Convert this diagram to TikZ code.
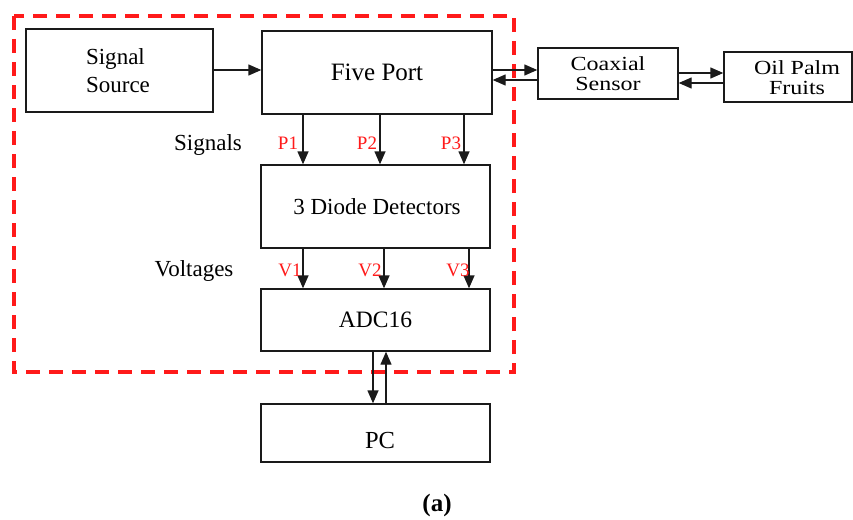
\documentclass[tikz,border=0pt]{standalone}
\usepackage{fontspec}
\setmainfont{Liberation Serif}
\usetikzlibrary{arrows.meta}
\definecolor{linegray}{HTML}{1A1A1A}
\definecolor{dashred}{HTML}{FF1A1A}
\tikzset{
  blk/.style={draw=linegray, line width=1.4pt, fill=white, rectangle, inner sep=0pt, align=center, font=\fontsize{23}{28}\selectfont},
  arr/.style={draw=linegray, line width=1.4pt, -{Triangle[length=13pt,width=11pt]}},
  lbl/.style={font=\fontsize{23}{25}\selectfont, inner sep=0pt},
  widelbl/.style={inner sep=0pt, align=center, font=\fontsize{20}{20}\selectfont\addfontfeature{FakeStretch=1.2}},
  plbl/.style={font=\fontsize{19}{21}\selectfont, text=dashred, inner sep=0pt},
  region/.style={draw=dashred, line width=3.2pt, dash pattern=on 14pt off 9pt},
}
\begin{document}
\begin{tikzpicture}[x=1pt,y=-1pt]
\useasboundingbox (0,0) rectangle (853,519);
\fill[white] (0,0) rectangle (853,519);
\draw[region] (14,16) rectangle (514,372);

\node[blk, minimum width=187pt, minimum height=83pt] (src) at (119.5,70.5) {};
\node[lbl, align=left, font=\fontsize{23}{28}\selectfont] (srctxt) at (118,71) {Signal\\Source};
\node[blk, minimum width=230pt, minimum height=83pt, font=\fontsize{25}{27}\selectfont] (five) at (377,72.5) {Five Port};
\node[blk, minimum width=140pt, minimum height=51pt] (coax) at (608,73.5) {};
\node[widelbl] (coaxtxt) at (608,74) {Coaxial\\Sensor};
\node[blk, minimum width=128pt, minimum height=50pt] (oil) at (788,77) {};
\node[widelbl] (oiltxt) at (797,78) {Oil Palm\\Fruits};
\node[blk, minimum width=229pt, minimum height=83pt] (diode) at (375.5,206.5) {};
\node[lbl] (diodetxt) at (377,207) {3 Diode Detectors};
\node[blk, minimum width=229pt, minimum height=62pt, font=\fontsize{23.5}{25}\selectfont] (adc) at (375.5,320) {ADC16};
\node[blk, minimum width=229pt, minimum height=58pt] (pc) at (375.5,433) {};
\node[lbl, font=\fontsize{24.5}{26}\selectfont] (pctxt) at (380,441) {PC};

\draw[arr] (src.east |- 0,70) -- (five.west |- 0,70);
\draw[arr] (five.east |- 0,70) -- (coax.west |- 0,70);
\draw[arr] (coax.west |- 0,80) -- (five.east |- 0,80);
\draw[arr] (coax.east |- 0,73) -- (oil.west |- 0,73);
\draw[arr] (oil.west |- 0,83) -- (coax.east |- 0,83);

\draw[arr] (five.south -| 303,0) -- (diode.north -| 303,0);
\draw[arr] (five.south -| 380,0) -- (diode.north -| 380,0);
\draw[arr] (five.south -| 464,0) -- (diode.north -| 464,0);

\draw[arr] (diode.south -| 303,0) -- (adc.north -| 303,0);
\draw[arr] (diode.south -| 384,0) -- (adc.north -| 384,0);
\draw[arr] (diode.south -| 469,0) -- (adc.north -| 469,0);

\draw[arr] (adc.south -| 373,0) -- (pc.north -| 373,0);
\draw[arr] (pc.north -| 386,0) -- (adc.south -| 386,0);

\node[lbl] (sig) at (208,145) {Signals};
\node[plbl] (p1) at (288,143) {P1};
\node[plbl] (p2) at (367,143) {P2};
\node[plbl] (p3) at (451,143) {P3};
\node[lbl] (volt) at (194,271) {Voltages};
\node[plbl] (v1) at (290,270) {V1};
\node[plbl] (v2) at (370,270) {V2};
\node[plbl] (v3) at (458,270) {V3};

\node[font=\bfseries\fontsize{25}{27}\selectfont, inner sep=0pt] (cap) at (437,505) {(a)};
\end{tikzpicture}
\end{document}
